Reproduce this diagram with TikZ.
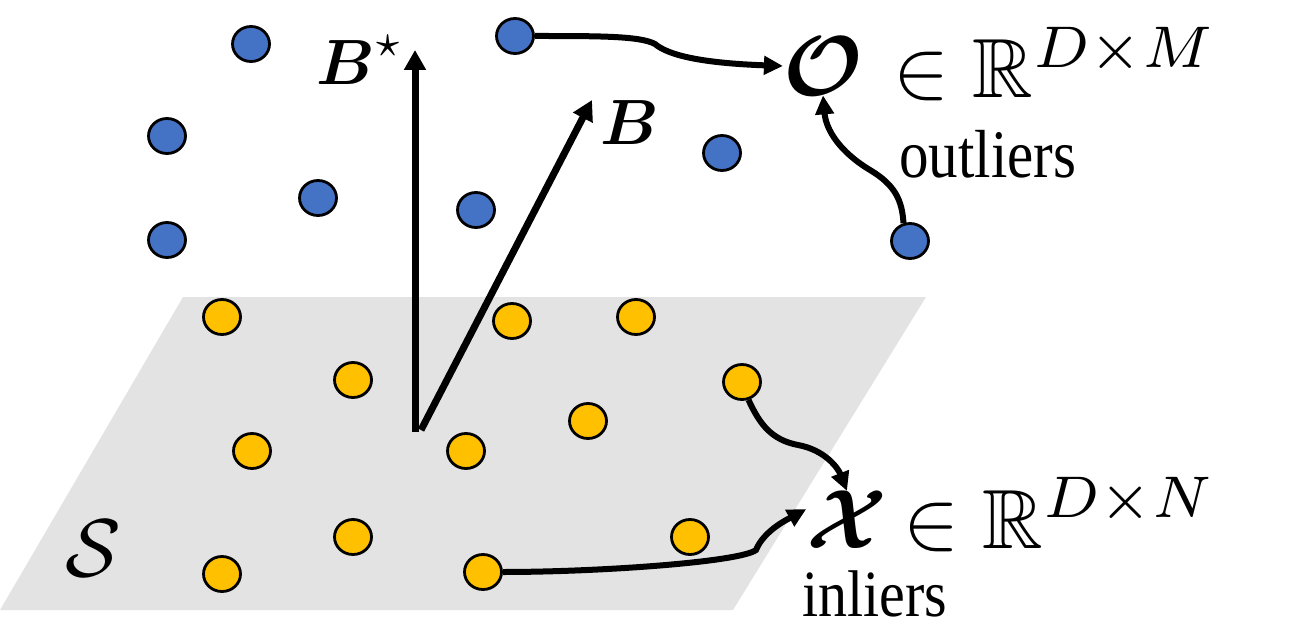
\documentclass[tikz,border=0pt]{standalone}
\usepackage{amsmath,amssymb}
\usepackage{graphicx}
\usepackage{fontspec}
\setmainfont{Liberation Serif}
\usetikzlibrary{arrows.meta,shapes.geometric}
\definecolor{dotblue}{HTML}{4472C4}
\definecolor{dotyellow}{HTML}{FFC000}
\definecolor{planegray}{HTML}{E3E3E3}
\begin{document}
\begin{tikzpicture}[x=1pt,y=-1pt,
  dotb/.style={ellipse,draw=black,line width=2.8pt,fill=dotblue,minimum width=37pt,minimum height=35pt,inner sep=0pt},
  doty/.style={ellipse,draw=black,line width=2.8pt,fill=dotyellow,minimum width=37pt,minimum height=35pt,inner sep=0pt},
  conn/.style={line width=6pt,-{Triangle[length=19pt,width=18pt]}},
  vec/.style={line width=7pt,-{Triangle[length=20pt,width=21pt]}},
  lbl/.style={inner sep=0pt}]
\useasboundingbox (0,0) rectangle (1295,628);
% plane
\fill[planegray] (183,297) -- (926,297) -- (733,610) -- (0,610) -- cycle;
% vectors
\coordinate (org) at (415,432);
\coordinate (borg) at (421,430);
\coordinate (bstar) at (415,50);
\coordinate (bvec) at (592,100);
\draw[vec] (org) -- (bstar);
\draw[vec] (borg) -- (bvec);
% labels
\node[lbl,anchor=base west] (Bs) at (316,85) {\scalebox{6.4}{$\boldsymbol{B}^\star$}};
\node[lbl,anchor=base west] (Bl) at (600,145) {\scalebox{6.4}{$\boldsymbol{B}$}};
\node[lbl] (O) at (823,66) {\scalebox{8.5}{$\boldsymbol{\mathcal{O}}$}};
\node[lbl,anchor=base west] (Oset) at (893,98) {\scalebox{8.4}{$\in\mathbb{R}^{D\times M}$}};
\node[lbl] (X) at (847,520) {\scalebox{8.4}{$\boldsymbol{\mathcal{X}}$}};
\node[lbl,anchor=base west] (Xset) at (903,548) {\scalebox{8.4}{$\in\mathbb{R}^{D\times N}$}};
\node[lbl,anchor=base west] (out) at (899,178) {\scalebox{5.9}[6.8]{outliers}};
\node[lbl,anchor=base west] (inl) at (802,616) {\scalebox{5.8}[6.6]{inliers}};
\node[lbl] (S) at (93,548) {\scalebox{8.2}{$\mathcal{S}$}};
% blue dots
\node[dotb] (b1) at (251,44) {};
\node[dotb] (b2) at (515,36) {};
\node[dotb] (b3) at (167,136) {};
\node[dotb] (b4) at (722,153) {};
\node[dotb] (b5) at (318,198) {};
\node[dotb] (b6) at (476,210) {};
\node[dotb] (b7) at (167,240) {};
\node[dotb] (b8) at (910,241) {};
% yellow dots
\node[doty] (y1) at (222,317) {};
\node[doty] (y2) at (512,321) {};
\node[doty] (y3) at (636,317) {};
\node[doty] (y4) at (353,380) {};
\node[doty] (y5) at (742,382) {};
\node[doty] (y6) at (588,421) {};
\node[doty] (y7) at (252,451) {};
\node[doty] (y8) at (466,451) {};
\node[doty] (y9) at (353,537) {};
\node[doty] (y10) at (690,537) {};
\node[doty] (y11) at (222,574) {};
\node[doty] (y12) at (483,572) {};
% connectors
\draw[conn] (b2.east) .. controls (600,36) and (640,36) .. (655,44) .. controls (668,55) and (700,63) .. (O.west);
\draw[conn] (b8.110) .. controls (902,200) and (895,185) .. (870,170) .. controls (840,152) and (826,130) .. (O.south);
\draw[conn] (y5.-70) .. controls (760,425) and (772,440) .. (798,445) .. controls (825,450) and (838,468) .. (X.north);
\draw[conn] (y12.east) .. controls (600,572) and (740,562) .. (756,550) .. controls (764,530) and (790,518) .. (X.165);
\end{tikzpicture}
\end{document}
